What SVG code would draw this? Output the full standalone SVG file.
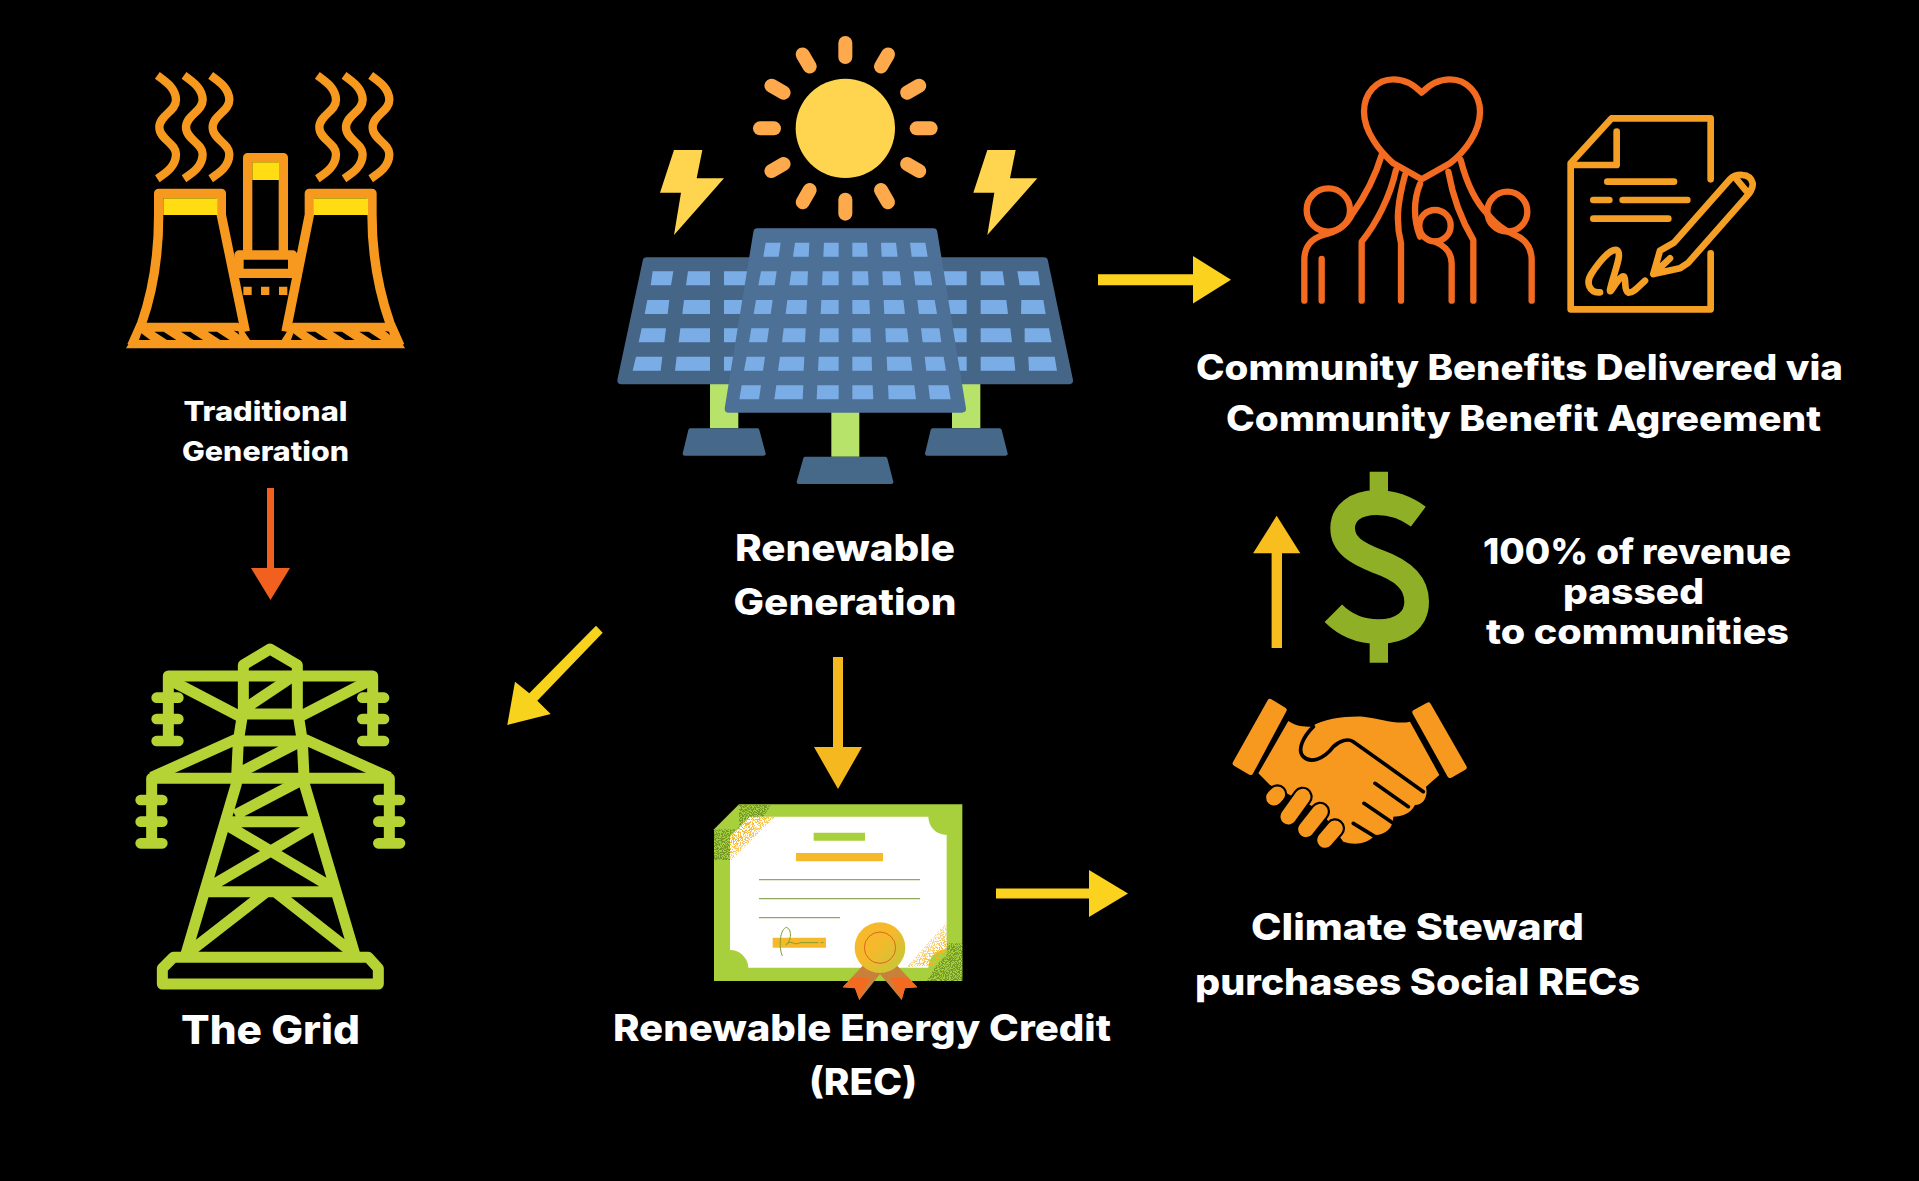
<svg xmlns="http://www.w3.org/2000/svg" width="1919" height="1181" viewBox="0 0 1919 1181">
<style>
text{font-family:Inter,"Liberation Sans",sans-serif;font-weight:800;fill:#fff;text-anchor:middle}
.plant{fill:none;stroke:#F7991F;stroke-width:28;stroke-linejoin:round}
.steam{fill:none;stroke:#F7991F;stroke-width:25}
.tower{fill:none;stroke:#B5D334;stroke-width:33;stroke-linecap:butt;stroke-linejoin:round}
.ins{fill:none;stroke:#B5D334;stroke-width:32;stroke-linecap:round}
.comm{fill:none;stroke:#F26B21;stroke-width:19;stroke-linecap:round;stroke-linejoin:round}
.doc{fill:none;stroke:#F5A024;stroke-width:20;stroke-linecap:round;stroke-linejoin:round}
.ray{stroke:#FFA94D;stroke-width:42;stroke-linecap:round}
.panel{fill:#4D7097;stroke:#4D7097;stroke-width:24;stroke-linejoin:round}
.panelb{fill:#466688;stroke:#466688;stroke-width:24;stroke-linejoin:round}
.foot{fill:#46698A;stroke:#46698A;stroke-width:12;stroke-linejoin:round}
.cell{fill:#7AADE6}
.pole{fill:#B8E36B}
.finger{stroke:#F7991F;stroke-linecap:round}
.fingerb{stroke:#000;stroke-linecap:round}
</style>
<defs>
<path id="w" d="M172 76C200 96 228 116 228 150C228 185 178 195 178 232C178 268 228 280 228 312C228 348 200 368 172 386"/>
<filter id="spk" x="0" y="0" width="1" height="1" color-interpolation-filters="sRGB">
<feTurbulence type="fractalNoise" baseFrequency=".3" numOctaves="2" seed="4" result="n"/>
<feColorMatrix in="n" type="matrix" values="0 0 0 0 .965 0 0 0 0 .725 0 0 0 0 .169 1 0 0 0 0"/>
<feComponentTransfer><feFuncA type="linear" slope="12" intercept="-5.6"/></feComponentTransfer>
<feComposite in2="SourceAlpha" operator="in"/>
</filter>
<filter id="gspk" x="0" y="0" width="1" height="1" color-interpolation-filters="sRGB">
<feTurbulence type="fractalNoise" baseFrequency=".3" numOctaves="2" seed="9" result="n"/>
<feColorMatrix in="n" type="matrix" values="0 0 0 0 .45 0 0 0 0 .6 0 0 0 0 .16 1 0 0 0 0"/>
<feComponentTransfer><feFuncA type="linear" slope="12" intercept="-5.4"/></feComponentTransfer>
<feComposite in2="SourceAlpha" operator="in"/>
</filter>
<linearGradient id="fa" gradientUnits="userSpaceOnUse" x1="118" y1="118" x2="185" y2="185"><stop offset=".2" stop-color="#000"/><stop offset="1" stop-color="#000" stop-opacity=".25"/></linearGradient>
<linearGradient id="fb" gradientUnits="userSpaceOnUse" x1="722" y1="515" x2="655" y2="448"><stop offset=".2" stop-color="#000"/><stop offset="1" stop-color="#000" stop-opacity=".25"/></linearGradient>
<linearGradient id="medal" x1="0" y1="0" x2="1" y2="1"><stop offset=".45" stop-color="#F6B92B"/><stop offset="1" stop-color="#B9CB3A"/></linearGradient>
</defs>
<rect width="1919" height="1181" fill="#000"/>

<g id="connectors">
<path fill="#F2601F" d="M267 488h7v80h16l-19.500 32L251 568h16z"/>
<path fill="#FBD21E" d="M1098 274.300h95V256l38 23.700-38 23.700v-18.100h-95z"/>
<path fill="#F8D31E" d="M596 625.700l6.700 7L537.300 700.700L550.700 714L507.300 725L515 681.700L529.300 693.300z"/>
<path fill="#F5B81E" d="M833 657h10v90h19L838 789l-24-42h19z"/>
<path fill="#FBD21E" d="M996 888.500h93V870l39 23.500-39 23.500v-18.500h-93z"/>
<path fill="#F7BE1E" d="M1276.700 515.700l23.600 37.600h-18.300V648h-10.400v-94.700h-18.500z"/>
</g>

<g id="traditional-generation">
<g transform="translate(100,50) scale(.33333)">
<use href="#w" class="steam"/><use href="#w" x="80" class="steam"/><use href="#w" x="160" class="steam"/>
<use href="#w" x="480" class="steam"/><use href="#w" x="560" class="steam"/><use href="#w" x="640" class="steam"/>
<path class="plant" d="M436 845L364 495V430H176V495C176 620 160 720 125 820L95 888"/>
<path class="plant" d="M558 845L628 495V430H816V495C816 620 835 720 870 820L900 888"/>
<path class="plant" d="M443 605V323H550V605M417 665V615H578V665M390 670H604"/>
<path fill="#F7991F" d="M125 818H415L450 870H545L578 818H870L915 895H78z"/>
<path d="M190 445h162v50H190zM641 445h163v50H641zM457 337h80v53h-80z" fill="#FFDD12"/>
<path fill="#F7991F" d="M430 710h25v25h-25zM483 710h25v25h-25zM537 710h25v25h-25z"/>
<path fill="#000" d="M163 845h28l38 25h-28zM243 845h28l38 25h-28zM323 845h28l38 25h-28zM124 850l-7 20h34zM402 842l16 12-3-10zM618 845h28l38 25h-28zM698 845h28l38 25h-28zM778 845h28l38 25h-28zM580 850l-7 20h34zM855 843l15 12-3-10z"/>
</g>
<text x="265.500" y="421" font-size="27" textLength="164" lengthAdjust="spacingAndGlyphs">Traditional</text>
<text x="265.500" y="461" font-size="27" textLength="167" lengthAdjust="spacingAndGlyphs">Generation</text>
</g>

<g id="the-grid">
<g transform="translate(120,630) scale(.33333)">
<path class="tower" d="M370 250V105L450 57L532 105V250M145 335V138H758V335M95 640V445H808V640"/>
<path class="tower" d="M95 442L355 325M808 442L547 325M150 150L365 262M752 150L535 262M360 252H542M355 333H547M368 240L525 135M355 430L540 335M345 555L555 445M197 975L349 462L355 333L368 250M705 975L553 462L547 333L534 250M325 575H578M315 582L640 775M590 582L262 775M255 785H650M440 785L205 968M465 785L698 968"/>
<path class="tower" d="M160 982H745L775 1015V1062H127V1015Z"/>
<path class="ins" d="M110 203H175M110 267H175M110 333H175M727 203H792M727 267H792M727 333H792M62 510H127M62 575H127M62 640H127M775 510H840M775 575H840M775 640H840"/>
</g>
<text x="270.500" y="1044" font-size="40" textLength="179" lengthAdjust="spacingAndGlyphs">The Grid</text>
</g>

<g id="renewable-generation">
<g transform="translate(600,20) scale(.33333)">
<circle cx="736" cy="325" r="149" fill="#FFD54F"/>
<g class="ray">
<path d="M736 69V111"/>
<path d="M736 69V111" transform="rotate(30 736 325)"/><path d="M736 69V111" transform="rotate(60 736 325)"/><path d="M736 69V111" transform="rotate(90 736 325)"/><path d="M736 69V111" transform="rotate(120 736 325)"/><path d="M736 69V111" transform="rotate(150 736 325)"/><path d="M736 69V111" transform="rotate(180 736 325)"/><path d="M736 69V111" transform="rotate(210 736 325)"/><path d="M736 69V111" transform="rotate(240 736 325)"/><path d="M736 69V111" transform="rotate(270 736 325)"/><path d="M736 69V111" transform="rotate(300 736 325)"/><path d="M736 69V111" transform="rotate(330 736 325)"/>
</g>
<path fill="#FFD54F" d="M222 390h85l-17 85h82L222 645l21-127h-63zM1162 390h85l-17 85h82l-150 170 21-127h-63z"/>
<path class="pole" d="M330 1085h85v140h-85zM1056 1085h85v140h-85zM694 1170h84v140h-84z"/>
<path class="foot" d="M271 1231H472L491 1301H254zM998 1231H1199L1217 1301H981zM616 1316H856L874 1386H596z"/>
<path class="panelb" d="M140 724H500V1081H64zM972 724H1332L1407 1081H972z"/>
<path class="cell" d="M158 754h62l-7 42h-61zM142 840h66l-5 42h-69zM125 925h73l-5 42h-77zM108 1010h79l-5 42h-84zM264 754h66v42h-72zM252 840h78v42h-83zM241 925h89v42h-94zM230 1010h100v42H225zM372 754h80v42h-80zM372 840h80v42h-80zM372 925h80v42h-80zM372 1010h80v42h-80zM1252 754h62l6 42h-61zM1264 840h66l7 42h-74zM1274 925h73l8 42h-81zM1285 1010h79l7 42h-84zM1142 754h66l6 42h-72zM1142 840h77l5 42h-82zM1142 925h89l5 42h-94zM1142 1010h100l4 42h-104zM1020 754h80v42h-80zM1020 840h80v42h-80zM1020 925h80v42h-80zM1020 1010h80v42h-80z"/>
<path class="panel" d="M472 637H1000L1086 1166H386z"/>
<path class="cell" d="M497 668h45l-6 42h-46zM483 754h47l-6 42h-49zM468 840h50l-6 42h-51zM454 925h53l-6 42h-54zM440 1010h55l-6 42h-57zM425 1096h58l-6 42h-59zM585 668h43l-2 42h-47zM574 754h50l-2 42h-54zM562 840h59l-2 42h-62zM551 925h66l-2 42h-69zM540 1010h73l-2 42h-77zM529 1096h81l-2 42h-85zM672 668h44v42h-46zM668 754h48v42h-50zM664 840h52v42h-54zM660 925h56v42h-58zM656 1010h60v42h-62zM652 1096h64v42h-66zM757 668h44l2 42h-46zM757 754h47l2 42h-49zM757 840h51l2 42h-53zM757 925h54l2 42h-56zM757 1010h58l1 42h-59zM757 1096h61l2 42h-63zM843 668h45l5 42h-48zM847 754h52l5 42h-55zM851 840h59l5 42h-62zM856 925h65l5 42h-68zM860 1010h72l5 42h-75zM864 1096h79l5 42h-82zM930 668h46l7 42h-48zM941 754h49l7 42h-51zM952 840h52l7 42h-54zM963 925h55l6 42h-56zM974 1010h57l7 42h-59zM985 1096h60l7 42h-62z"/>
</g>
<text x="845" y="560.500" font-size="37" textLength="220" lengthAdjust="spacingAndGlyphs">Renewable</text>
<text x="845" y="615" font-size="37" textLength="223" lengthAdjust="spacingAndGlyphs">Generation</text>
</g>

<g id="community-benefits">
<g transform="translate(1270,60) scale(.33333)">
<g class="comm">
<path d="M455 98C430 72 400 58 370 58C320 58 282 100 282 155C282 215 330 275 370 310L455 358L540 310C585 275 630 215 630 155C630 100 590 58 540 58C510 58 480 72 455 98Z"/>
<circle cx="175" cy="450" r="65"/><circle cx="712" cy="455" r="60"/><circle cx="495" cy="497" r="47"/>
<path d="M335 285C310 370 270 430 245 465C230 495 200 515 160 525C125 535 103 560 103 600V722M155 597V722"/>
<path d="M378 330C360 410 320 490 275 545V722M405 345C385 420 375 480 393 550V722M450 372C430 420 430 480 450 530M495 545C530 560 545 580 545 610V722"/>
<path d="M535 335C550 420 580 490 610 540V722M572 300C590 370 620 430 655 465C680 495 710 515 735 525C770 540 785 565 785 600V722"/>
</g>
<g class="doc">
<path d="M1322 358V175H1025L902 310V748H1322V580M1040 215V315H905M1012 365H1212M970 420H1018M1058 420H1252M970 476H1195"/>
<path d="M990 697C960 700 945 670 965 640C985 610 1020 565 1040 570C1060 580 1030 640 1020 690C1018 710 1050 640 1062 650C1070 660 1060 690 1075 698C1090 700 1110 675 1125 662"/>
<path d="M1150 642L1170 572L1212 548L1380 358C1395 342 1440 335 1448 370C1450 385 1440 398 1425 415L1255 608L1230 625ZM1400 358L1428 392M1150 642L1200 595"/>
</g>
</g>
<text x="1519.500" y="379.500" font-size="35" textLength="647" lengthAdjust="spacingAndGlyphs">Community Benefits Delivered via</text>
<text x="1523.500" y="431" font-size="35" textLength="595" lengthAdjust="spacingAndGlyphs">Community Benefit Agreement</text>
</g>

<g id="revenue">
<path transform="translate(1220,460) scale(.33333)" fill="none" stroke="#8FAF27" stroke-width="74" d="M595 170C555 140 515 128 470 128C405 128 368 160 368 205C368 255 410 280 475 305C545 330 590 365 590 425C590 480 545 515 475 515C420 515 375 495 340 460"/>
<path transform="translate(1220,460) scale(.33333)" fill="#8FAF27" d="M449 35h55v65h-55zM449 545h55v63h-55z"/>
<text x="1637" y="564" font-size="35" textLength="308" lengthAdjust="spacingAndGlyphs">100% of revenue</text>
<text x="1633.500" y="603.500" font-size="35" textLength="141" lengthAdjust="spacingAndGlyphs">passed</text>
<text x="1637.500" y="644" font-size="35" textLength="303" lengthAdjust="spacingAndGlyphs">to communities</text>
</g>

<g id="climate-steward">
<g transform="translate(1220,460) scale(.33333)">
<path fill="#F7991F" stroke="#F7991F" stroke-width="16" stroke-linejoin="round" d="M150 725L192 750L92 937L46 910zM625 735L585 757L690 946L732 922z"/>
<path fill="#F7991F" d="M205 783C230 800 250 800 275 800C310 775 380 768 430 770C480 775 530 795 570 785L658 945L618 980C625 1010 610 1035 585 1035C570 1065 540 1070 520 1070C520 1105 495 1125 465 1125C440 1155 400 1155 370 1145L300 1050L150 975L115 940Z"/>
<path fill="none" stroke="#000" stroke-width="11" stroke-linecap="round" d="M280 800C250 830 230 870 250 890C270 910 310 900 340 860C360 840 385 835 400 845L610 995M465 970L565 1040M432 1030L520 1090M400 1090L465 1130"/>
<g fill="none">
<path class="fingerb" stroke-width="60" d="M162 1013L172 1003M205 1070L248 1010M258 1108L300 1055M315 1140L345 1105"/>
<path class="finger" stroke-width="47" d="M162 1013L172 1003M205 1070L248 1010M258 1108L300 1055M315 1140L345 1105"/>
</g>
</g>
<text x="1417.500" y="940" font-size="37" textLength="333" lengthAdjust="spacingAndGlyphs">Climate Steward</text>
<text x="1417.500" y="995" font-size="37" textLength="445" lengthAdjust="spacingAndGlyphs">purchases Social RECs</text>
</g>

<g id="renewable-energy-credit">
<g transform="translate(700,790) scale(.33333)">
<path fill="#A8CF3C" d="M117 43H787V573H42V118z"/>
<path fill="#fff" d="M150 80H685A55 55 0 0 0 740 135V478A55 55 0 0 0 685 533H145A55 55 0 0 0 90 480V140Z"/>
<path filter="url(#gspk)" d="M117 43H215L190 80H150L90 135V210H42V118H117zM787 460V573H680L710 525L740 495V460Z"/>
<path filter="url(#spk)" fill="url(#fa)" d="M90 140L150 80H225L95 210H90z"/>
<path filter="url(#spk)" fill="url(#fb)" d="M740 395V485L700 525L620 532z"/>
<path fill="#A8CF3C" d="M341 128h154v24H341z"/>
<path fill="#F6B92B" d="M288 189h261v25H288zM218 443h160v30H218z"/>
<path fill="none" stroke="#8FA95E" stroke-width="4" d="M177 269H660M177 326H660M177 383H420"/>
<path fill="none" stroke="#7F9E2E" stroke-width="3" d="M247 498C235 470 240 415 260 412C280 420 270 460 258 465C270 445 285 470 300 458H355M362 458H370"/>
<path fill="#C8803A" d="M490 525L590 525L652 592L615 595L605 630L540 552L478 630L465 595L428 592Z"/>
<path fill="#F26B21" d="M458 560L510 565L478 630L465 595L428 592zM622 560L570 565L605 630L615 595L652 592z"/>
<circle cx="540" cy="473" r="76" fill="url(#medal)"/>
<circle cx="540" cy="473" r="47" fill="none" stroke="#D9671C" stroke-width="3"/>
</g>
<text x="862" y="1041" font-size="37" textLength="498" lengthAdjust="spacingAndGlyphs">Renewable Energy Credit</text>
<text x="863" y="1095" font-size="37" textLength="108" lengthAdjust="spacingAndGlyphs">(REC)</text>
</g>
</svg>
